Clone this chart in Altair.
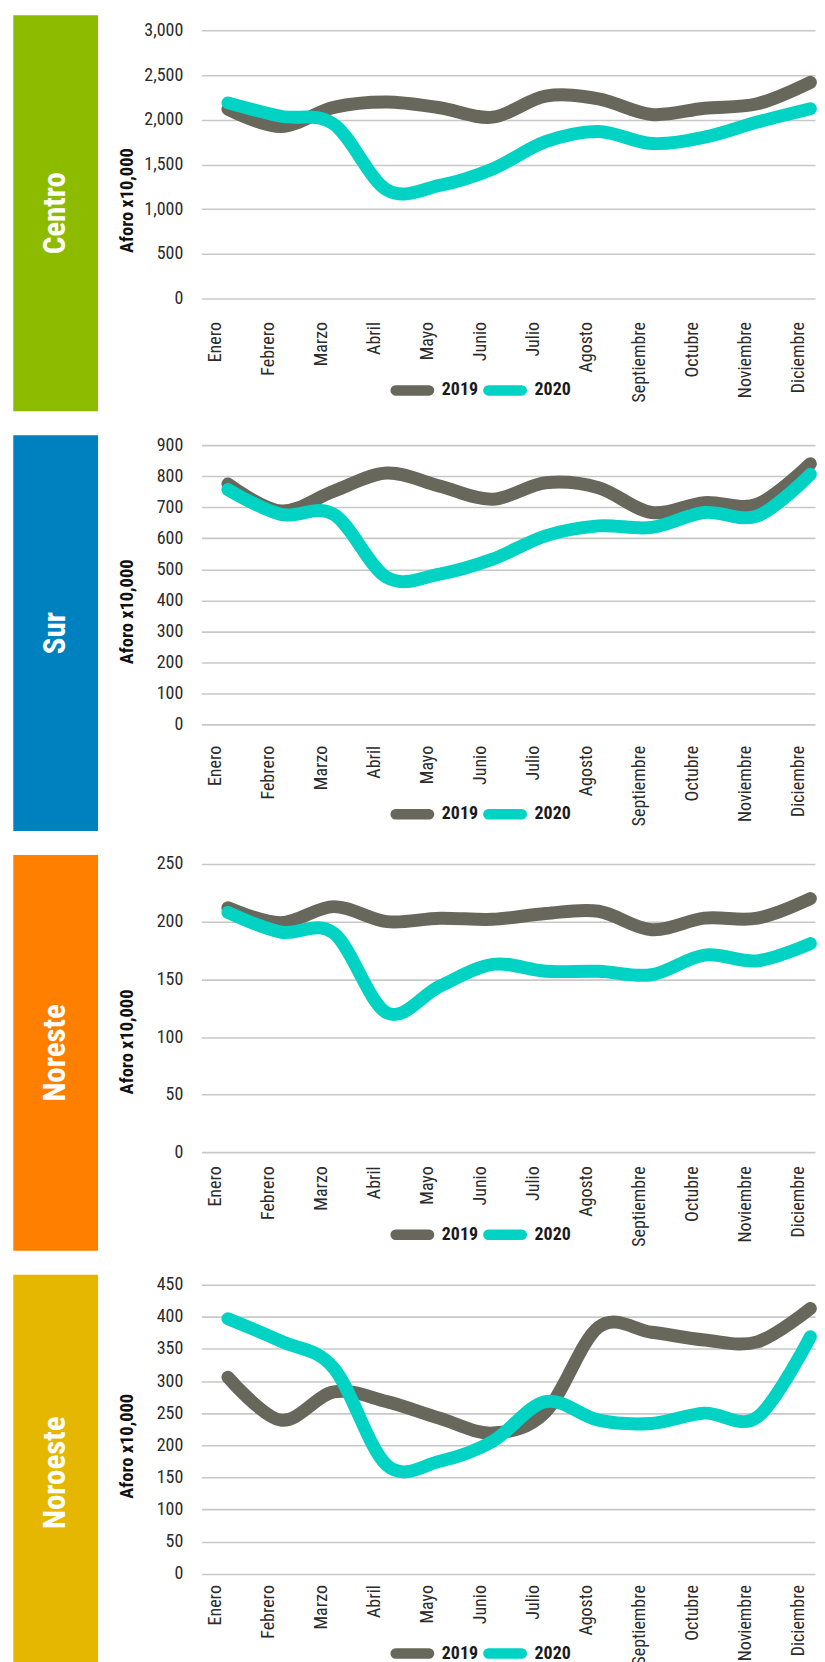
import altair as alt
import pandas as pd

# ---------------- data ----------------
months = ["Enero", "Febrero", "Marzo", "Abril", "Mayo", "Junio", "Julio",
          "Agosto", "Septiembre", "Octubre", "Noviembre", "Diciembre"]
years = ["2019", "2020"]
regions = ["Centro", "Sur", "Noreste", "Noroeste"]

centro_2019 = [2120, 1925, 2140, 2200, 2135, 2030, 2265, 2235, 2060, 2130, 2180, 2420]
centro_2020 = [2190, 2040, 1950, 1215, 1265, 1450, 1755, 1870, 1735, 1805, 1975, 2125]
sur_2019 = [775, 688, 752, 810, 768, 726, 779, 763, 683, 715, 710, 840]
sur_2020 = [757, 677, 677, 474, 485, 533, 608, 640, 635, 683, 672, 806]
noreste_2019 = [212, 199, 213, 200, 203, 202, 207, 209, 193, 203, 203, 220]
noreste_2020 = [208, 191, 190, 121, 144, 163, 157, 157, 154, 171, 166, 181]
noroeste_2019 = [306, 239, 283, 268, 242, 219, 252, 384, 376, 364, 361, 413]
noroeste_2020 = [397, 362, 320, 169, 175, 206, 268, 239, 234, 250, 244, 369]

series = [
    (centro_2019, centro_2020),
    (sur_2019, sur_2020),
    (noreste_2019, noreste_2020),
    (noroeste_2019, noroeste_2020),
]
y_max = [3000, 900, 250, 450]
y_step = [500, 100, 50, 50]

# ---------------- styles / layout ----------------
region_colors = ["#8DBB00", "#0081BF", "#FF8000", "#E5B700"]
series_colors = ["#67675B", "#00D2C3"]
FONT = "Roboto Condensed, Roboto, sans-serif"
VIEW_W = 615.3
VIEW_H = 397
STEP = 53.1
x_domain = [-0.5, VIEW_W / STEP - 0.5]
# thin capsule outline: stroked wide it gives a line symbol with round ends
CAPSULE = ("M-0.78,-0.01 L0.78,-0.01 A0.01,0.01 0 0 1 0.78,0.01 "
           "L-0.78,0.01 A0.01,0.01 0 0 1 -0.78,-0.01 Z")

layout = [
    dict(top=15.3, bottom=283.7, title_y=185.3, xoff=-90, leg_y=349.5),
    dict(top=10.0, bottom=290.3, title_y=176.7, xoff=-86, leg_y=353.5),
    dict(top=9.0, bottom=298.3, title_y=187.0, xoff=-85.3, leg_y=354.2),
    dict(top=10.0, bottom=299.7, title_y=171.5, xoff=-86.3, leg_y=353.2),
]

month_expr = "[" + ",".join("'" + m + "'" for m in months) + "][datum.value]"


def panel(i):
    name = regions[i]
    s19, s20 = series[i]
    lay = layout[i]
    df = pd.DataFrame({
        "idx": list(range(12)) * 2,
        "year": [years[0]] * 12 + [years[1]] * 12,
        "value": list(s19) + list(s20),
    })
    ticks = list(range(0, y_max[i] + 1, y_step[i]))

    box_df = pd.DataFrame({"region": [name]})
    box = alt.Chart(box_df).mark_rect(color=region_colors[i]).encode(
        x=alt.value(-188.7), x2=alt.value(-103.7),
        y=alt.value(0), y2=alt.value(VIEW_H),
    )
    box_text = alt.Chart(box_df).mark_text(
        angle=270, font=FONT, fontWeight="bold", fontSize=31, color="white",
        align="center", baseline="middle",
    ).encode(x=alt.value(-146.2), y=alt.value(VIEW_H / 2), text="region:N")

    lines = alt.Chart(df).mark_line(
        interpolate="cardinal", strokeWidth=13, strokeCap="round", strokeJoin="round"
    ).encode(
        x=alt.X("idx:Q",
                scale=alt.Scale(domain=x_domain, nice=False, zero=False),
                axis=alt.Axis(values=list(range(12)), labelExpr=month_expr, title=None,
                              labelAngle=270, labelAlign="right", labelBaseline="middle",
                              labelOffset=-12, labelPadding=0, ticks=False, tickSize=0,
                              domain=False, grid=False, offset=lay["xoff"],
                              labelFont=FONT, labelFontSize=18, labelColor="#2b2b2b",
                              labelOverlap=False, labelFlush=False, labelBound=False)),
        y=alt.Y("value:Q",
                scale=alt.Scale(domain=[0, y_max[i]], range=[lay["bottom"], lay["top"]],
                                nice=False, zero=True),
                axis=alt.Axis(values=ticks, format=",d", title="Aforo x10,000",
                              titleX=-74.7, titleY=lay["title_y"], titleAngle=270,
                              titleAlign="center", titleBaseline="middle",
                              titleFont=FONT, titleFontSize=18.5, titleFontWeight="bold",
                              titleColor="#111111",
                              labelFont=FONT, labelFontSize=18, labelColor="#2b2b2b",
                              labelPadding=18.7, ticks=False, tickSize=0, domain=False,
                              grid=True, gridColor="#c8c8c8", gridWidth=1.6,
                              labelOverlap=False, labelFlush=False, labelBound=False)),
        color=alt.Color("year:N",
                        scale=alt.Scale(domain=years, range=series_colors),
                        legend=alt.Legend(title=None, orient="none", direction="horizontal",
                                          legendX=185, legendY=lay["leg_y"],
                                          symbolType=CAPSULE, symbolSize=1849,
                                          symbolStrokeWidth=10, labelFont=FONT,
                                          labelFontSize=18, labelFontWeight="bold",
                                          labelColor="#1a1a1a", labelOffset=3,
                                          columnPadding=-19, padding=0)),
    )
    return alt.layer(box, box_text, lines).properties(width=VIEW_W, height=VIEW_H)


chart = alt.vconcat(*[panel(i) for i in range(4)], spacing=24, bounds="flush").resolve_scale(
    y="independent", color="independent"
).resolve_legend(color="independent").properties(
    padding={"left": 5, "top": 5, "right": 0, "bottom": 5}
).configure_view(stroke=None)

chart.save("out.html", embed_options={"renderer": "svg", "actions": False})
